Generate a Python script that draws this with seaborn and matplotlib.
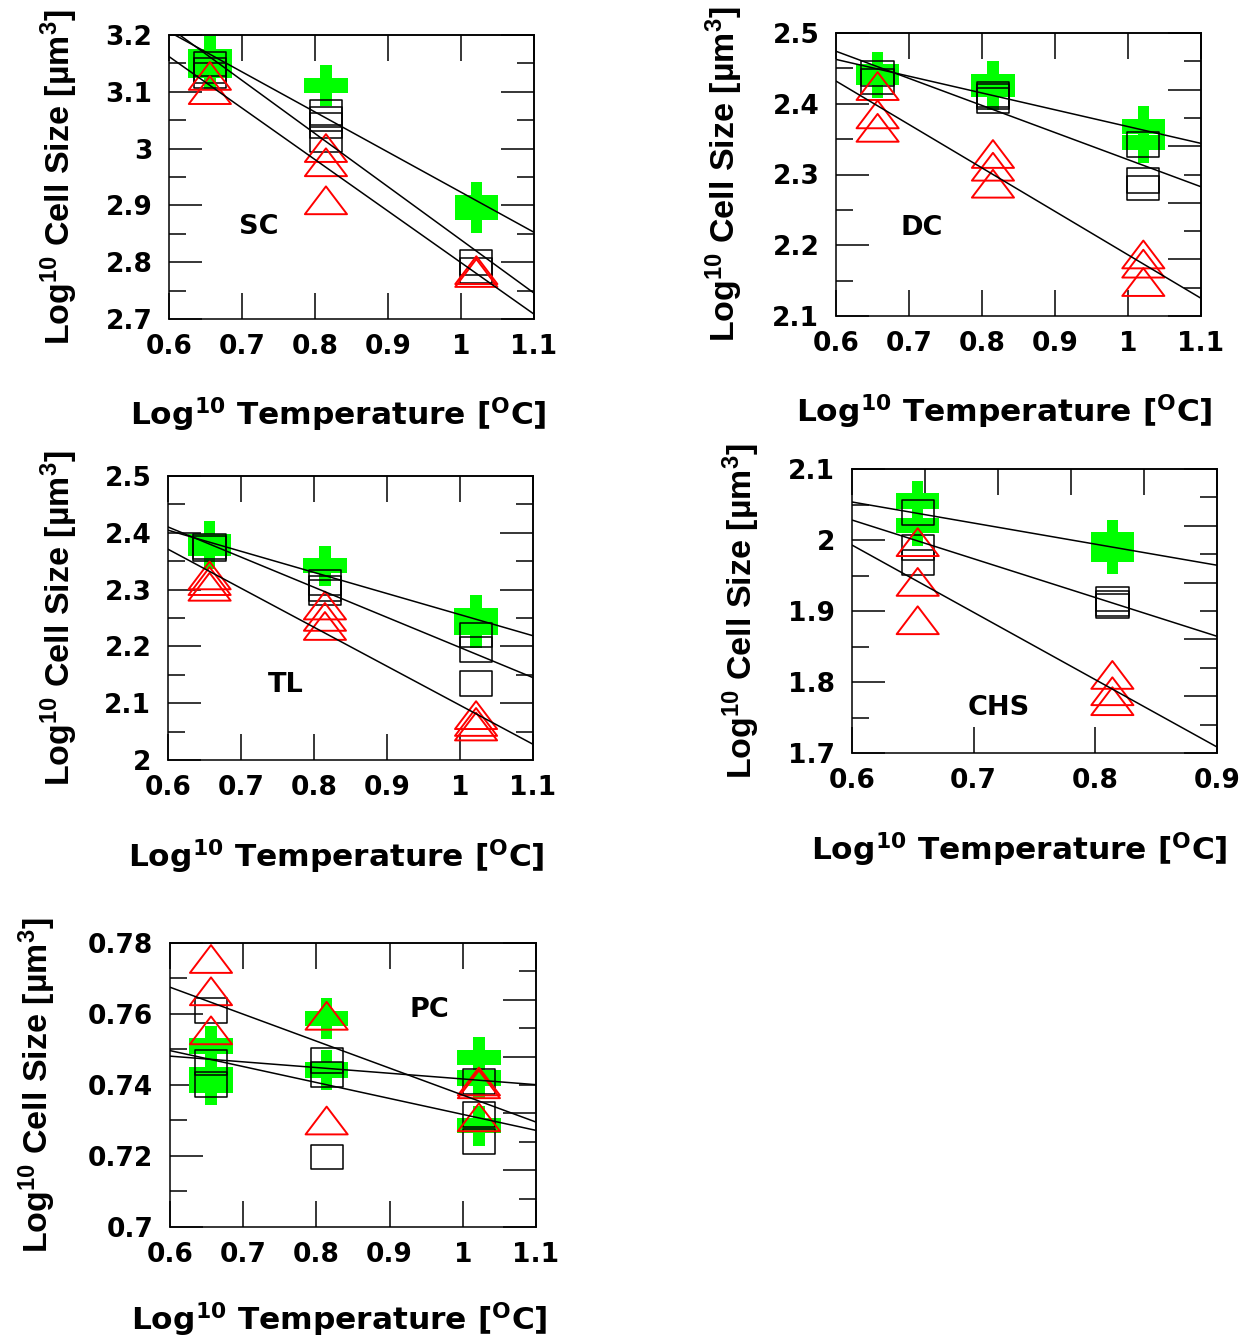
import numpy as np
import pandas as pd
import matplotlib
matplotlib.use("Agg")
import matplotlib.pyplot as plt
import matplotlib.ticker as mticker
from matplotlib.path import Path
import seaborn as sns

# ---------------- data ----------------
# SC
sc_plus_x = [0.656, 0.656, 0.815, 1.021, 1.021]
sc_plus_y = [3.162, 3.138, 3.111, 2.905, 2.887]
sc_box_x = [0.656, 0.656, 0.656, 0.815, 0.815, 0.815, 0.815, 1.021, 1.021]
sc_box_y = [3.149, 3.138, 3.128, 3.064, 3.052, 3.040, 3.016, 2.800, 2.786]
sc_tri_x = [0.656, 0.656, 0.815, 0.815, 0.815, 1.021, 1.021]
sc_tri_y = [3.128, 3.103, 3.001, 2.976, 2.909, 2.786, 2.781]

# DC
dc_plus_x = [0.657, 0.657, 0.815, 0.815, 1.021, 1.021]
dc_plus_y = [2.445, 2.437, 2.432, 2.420, 2.368, 2.345]
dc_box_x = [0.657, 0.657, 0.815, 0.815, 0.815, 1.021, 1.021, 1.021]
dc_box_y = [2.443, 2.432, 2.413, 2.410, 2.405, 2.343, 2.292, 2.281]
dc_tri_x = [0.657, 0.657, 0.657, 0.815, 0.815, 0.815, 1.021, 1.021, 1.021]
dc_tri_y = [2.425, 2.385, 2.366, 2.329, 2.311, 2.287, 2.187, 2.174, 2.148]

# TL
tl_plus_x = [0.657, 0.657, 0.815, 1.022, 1.022]
tl_plus_y = [2.385, 2.372, 2.342, 2.255, 2.233]
tl_box_x = [0.657, 0.657, 0.815, 0.815, 0.815, 1.022, 1.022, 1.022]
tl_box_y = [2.376, 2.372, 2.313, 2.302, 2.295, 2.220, 2.195, 2.135]
tl_tri_x = [0.657, 0.657, 0.657, 0.815, 0.815, 0.815, 1.022, 1.022, 1.022]
tl_tri_y = [2.325, 2.315, 2.305, 2.272, 2.252, 2.236, 2.079, 2.067, 2.059]

# CHS
chs_plus_x = [0.654, 0.654, 0.814, 0.814]
chs_plus_y = [2.055, 2.020, 2.000, 1.980]
chs_box_x = [0.654, 0.654, 0.654, 0.814, 0.814, 0.814]
chs_box_y = [2.039, 1.989, 1.968, 1.917, 1.910, 1.907]
chs_tri_x = [0.654, 0.654, 0.654, 0.814, 0.814, 0.814]
chs_tri_y = [1.997, 1.941, 1.887, 1.810, 1.787, 1.773]

# PC
pc_plus_x = [0.656, 0.656, 0.656, 0.814, 0.814, 1.022, 1.022, 1.022]
pc_plus_y = [0.7510, 0.7430, 0.7400, 0.7587, 0.7442, 0.7477, 0.7420, 0.7285]
pc_box_x = [0.656, 0.656, 0.656, 0.814, 0.814, 0.814, 1.022, 1.022, 1.022]
pc_box_y = [0.7611, 0.7464, 0.7401, 0.7468, 0.7430, 0.7197, 0.7410, 0.7316, 0.7242]
pc_tri_x = [0.656, 0.656, 0.656, 0.814, 0.814, 1.022, 1.022, 1.022]
pc_tri_y = [0.7755, 0.7664, 0.7554, 0.7595, 0.7300, 0.7410, 0.7402, 0.7309]

panel_names = ["SC", "DC", "TL", "CHS", "PC"]
ylabel_text = r"Log$^{10}$ Cell Size [µm$^{3}$]"
xlabel_text = r"Log$^{10}$ Temperature [$^{O}$C]"

# ---------------- style ----------------
sns.set_theme(style="white")
plt.rcParams["font.family"] = ["DejaVu Sans"]
plt.rcParams["font.weight"] = "bold"
plt.rcParams["mathtext.default"] = "regular"
plt.rcParams["axes.edgecolor"] = "black"
plt.rcParams["axes.linewidth"] = 1.1

GREEN = "#00ff00"
RED = "#ff0000"

PLUS = Path([(-0.26, -0.93), (0.26, -0.93), (0.26, -0.35), (1, -0.35), (1, 0.35),
             (0.26, 0.35), (0.26, 0.93), (-0.26, 0.93), (-0.26, 0.35), (-1, 0.35),
             (-1, -0.35), (-0.26, -0.35), (-0.26, -0.93)], closed=True)
BOX = Path([(-1, -0.77), (1, -0.77), (1, 0.77), (-1, 0.77), (-1, -0.77)], closed=True)
TRI = Path([(-1, -0.66), (1, -0.66), (0, 0.66), (-1, -0.66)], closed=True)

W, H = 1245, 1339
fig = plt.figure(figsize=(W / 100, H / 100), dpi=100)
fig.patch.set_facecolor("white")


def px_rect(l, t, r, b):
    return [l / W, 1 - b / H, (r - l) / W, (b - t) / H]


fmt = mticker.FuncFormatter(lambda v, p: f"{round(v, 6):g}")


def draw_panel(rect, name, xlim, ylim, ystep, plus, box, tri,
               name_pos, ylab_x, xlab_pos):
    ax = fig.add_axes(rect)
    ax.set_xlim(xlim)
    ax.set_ylim(ylim)
    d_plus = pd.DataFrame({"x": plus[0], "y": plus[1]})
    d_box = pd.DataFrame({"x": box[0], "y": box[1]})
    d_tri = pd.DataFrame({"x": tri[0], "y": tri[1]})

    sns.scatterplot(data=d_plus, x="x", y="y", marker=PLUS, s=980, color=GREEN,
                    edgecolor="none", linewidth=0, zorder=2, legend=False, ax=ax)
    sns.scatterplot(data=d_box, x="x", y="y", marker=BOX, s=540, color="none",
                    edgecolor="black", linewidth=1.1, zorder=3, legend=False, ax=ax)
    sns.scatterplot(data=d_tri, x="x", y="y", marker=TRI, s=920, color="none",
                    edgecolor=RED, linewidth=1.4, zorder=4, legend=False, ax=ax)
    for d in (d_plus, d_box, d_tri):
        ax.set_xlim(xlim)
        sns.regplot(data=d, x="x", y="y", scatter=False, ci=None, truncate=False,
                    line_kws=dict(color="black", lw=1.1, zorder=5), ax=ax)
    ax.set_xlim(xlim)
    ax.set_ylim(ylim)

    ax.xaxis.set_major_locator(mticker.MultipleLocator(0.1))
    ax.yaxis.set_major_locator(mticker.MultipleLocator(ystep))
    ax.yaxis.set_minor_locator(mticker.MultipleLocator(ystep / 2))
    ax.xaxis.set_major_formatter(fmt)
    ax.yaxis.set_major_formatter(fmt)
    ax.tick_params(axis="x", which="major", direction="in", length=19, width=1.1,
                   pad=11, labelsize=19, top=False, bottom=True, colors="black")
    ax.tick_params(axis="y", which="major", direction="in", length=24, width=1.1,
                   pad=12, labelsize=19, right=False, left=True, colors="black")
    ax.tick_params(axis="y", which="minor", direction="in", length=12, width=1.1,
                   right=False, left=True, colors="black")

    top = ax.secondary_xaxis("top")
    top.xaxis.set_major_locator(mticker.LinearLocator(6))
    top.xaxis.set_major_formatter(mticker.NullFormatter())
    top.tick_params(axis="x", direction="in", length=19, width=1.1, colors="black")
    right = ax.secondary_yaxis("right")
    right.yaxis.set_major_locator(mticker.LinearLocator(6))
    right.yaxis.set_minor_locator(mticker.LinearLocator(11))
    right.yaxis.set_major_formatter(mticker.NullFormatter())
    right.yaxis.set_minor_formatter(mticker.NullFormatter())
    right.tick_params(axis="y", which="major", direction="in", length=24, width=1.1,
                      colors="black")
    right.tick_params(axis="y", which="minor", direction="in", length=12, width=1.1,
                      colors="black")
    for sp in list(ax.spines.values()) + list(top.spines.values()) + list(right.spines.values()):
        sp.set_color("black")
        sp.set_linewidth(1.1)

    ax.set_ylabel(ylabel_text, fontsize=24.5, family="Liberation Sans",
                  fontweight="bold", color="black")
    ax.yaxis.set_label_coords(ylab_x, 0.5)
    ax.set_xlabel(xlabel_text, fontsize=22.5, family="DejaVu Sans",
                  fontweight="bold", color="black")
    ax.xaxis.set_label_coords(*xlab_pos)

    ax.text(name_pos[0], name_pos[1], name, transform=ax.transAxes, ha="center",
            va="center", fontsize=19.5, fontweight="bold", color="black")
    return ax


draw_panel(px_rect(169, 35, 534, 319), panel_names[0], (0.6, 1.1), (2.7, 3.2), 0.1,
           (sc_plus_x, sc_plus_y), (sc_box_x, sc_box_y), (sc_tri_x, sc_tri_y),
           (0.247, 0.323), -0.244, (0.464, -0.268))
draw_panel(px_rect(836, 33, 1201, 316), panel_names[1], (0.6, 1.1), (2.1, 2.5), 0.1,
           (dc_plus_x, dc_plus_y), (dc_box_x, dc_box_y), (dc_tri_x, dc_tri_y),
           (0.235, 0.31), -0.249, (0.462, -0.272))
draw_panel(px_rect(168, 476, 533, 760), panel_names[2], (0.6, 1.1), (2.0, 2.5), 0.1,
           (tl_plus_x, tl_plus_y), (tl_box_x, tl_box_y), (tl_tri_x, tl_tri_y),
           (0.323, 0.264), -0.241, (0.462, -0.272))
draw_panel(px_rect(852, 469, 1217, 753), panel_names[3], (0.6, 0.9), (1.7, 2.1), 0.1,
           (chs_plus_x, chs_plus_y), (chs_box_x, chs_box_y), (chs_tri_x, chs_tri_y),
           (0.401, 0.157), -0.247, (0.459, -0.272))
draw_panel(px_rect(170, 943, 536, 1227), panel_names[4], (0.6, 1.1), (0.70, 0.78), 0.02,
           (pc_plus_x, pc_plus_y), (pc_box_x, pc_box_y), (pc_tri_x, pc_tri_y),
           (0.71, 0.764), -0.306, (0.462, -0.258))

fig.savefig("out.png", dpi=100, facecolor="white")
